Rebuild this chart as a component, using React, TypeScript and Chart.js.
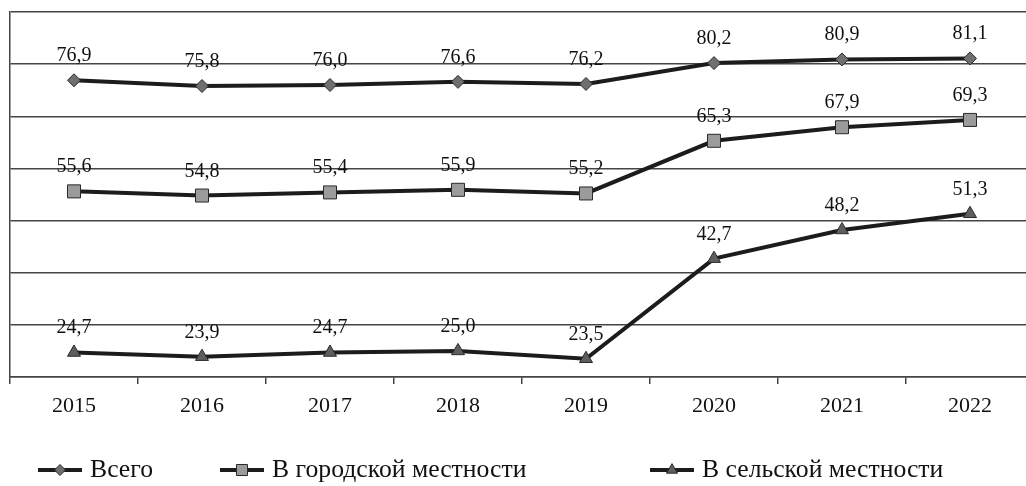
import React, { useEffect, useRef } from "react";
import { Chart, registerables } from "chart.js";

Chart.register(...registerables);

// Годы наблюдений
const years = ["2015", "2016", "2017", "2018", "2019", "2020", "2021", "2022"];

// Показатели, %
const totalValues = [76.9, 75.8, 76.0, 76.6, 76.2, 80.2, 80.9, 81.1];
const urbanValues = [55.6, 54.8, 55.4, 55.9, 55.2, 65.3, 67.9, 69.3];
const ruralValues = [24.7, 23.9, 24.7, 25.0, 23.5, 42.7, 48.2, 51.3];

const seriesNames = ["Всего", "В городской местности", "В сельской местности"];

const FONT = "'Liberation Serif', 'Times New Roman', serif";
const LINE_COLOR = "#1c1c1c";
const GRID_COLOR = "#454545";

// the canvas is a little wider than the window; the overflow is hidden
const CANVAS_W = 1034;
const CANVAS_H = 486;

type Marker = "rectRot" | "rect" | "triangle";

const markers: Marker[] = ["rectRot", "rect", "triangle"];
const markerFill = ["#6f6f6f", "#9b9b9b", "#5e5e5e"];
const markerRadius = [6.5, 9.2, 7.5];

const fmt = (v: number) => v.toFixed(1).replace(".", ",");

function drawMarker(ctx: CanvasRenderingContext2D, kind: Marker, x: number, y: number, r: number, fill: string) {
  ctx.save();
  ctx.beginPath();
  if (kind === "rectRot") {
    ctx.moveTo(x, y - r);
    ctx.lineTo(x + r, y);
    ctx.lineTo(x, y + r);
    ctx.lineTo(x - r, y);
  } else if (kind === "rect") {
    const s = Math.SQRT1_2 * r;
    ctx.rect(x - s, y - s, 2 * s, 2 * s);
  } else {
    const a = (2 * Math.PI) / 3;
    ctx.moveTo(x, y - r);
    ctx.lineTo(x + Math.sin(a) * r, y - Math.cos(a) * r);
    ctx.lineTo(x + Math.sin(2 * a) * r, y - Math.cos(2 * a) * r);
  }
  ctx.closePath();
  ctx.fillStyle = fill;
  ctx.fill();
  ctx.lineWidth = 1;
  ctx.strokeStyle = "#2a2a2a";
  ctx.stroke();
  ctx.restore();
}

// Подписи значений над точками
const valueLabels = {
  id: "valueLabels",
  afterDatasetsDraw(chart: any) {
    const { ctx } = chart;
    ctx.save();
    ctx.font = `20px ${FONT}`;
    ctx.fillStyle = "#111";
    ctx.textAlign = "center";
    ctx.textBaseline = "alphabetic";
    chart.data.datasets.forEach((ds: any, i: number) => {
      const meta = chart.getDatasetMeta(i);
      meta.data.forEach((pt: any, j: number) => {
        ctx.fillText(fmt(ds.data[j]), pt.x, pt.y - 19);
      });
    });
    ctx.restore();
  },
};

// Легенда внизу
const LEGEND_X = [38, 220, 650];
const LEGEND_Y = 470;
const LEGEND_LINE = 44;

const bottomLegend = {
  id: "bottomLegend",
  afterDraw(chart: any) {
    const { ctx } = chart;
    ctx.save();
    seriesNames.forEach((name, i) => {
      const x0 = LEGEND_X[i];
      ctx.beginPath();
      ctx.moveTo(x0, LEGEND_Y);
      ctx.lineTo(x0 + LEGEND_LINE, LEGEND_Y);
      ctx.lineWidth = 4;
      ctx.strokeStyle = LINE_COLOR;
      ctx.stroke();
      drawMarker(ctx, markers[i], x0 + LEGEND_LINE / 2, LEGEND_Y, markerRadius[i] * 0.85, markerFill[i]);
      ctx.font = `25.7px ${FONT}`;
      ctx.fillStyle = "#111";
      ctx.textAlign = "left";
      ctx.textBaseline = "middle";
      ctx.fillText(name, x0 + LEGEND_LINE + 8, LEGEND_Y);
    });
    ctx.restore();
  },
};

export default function App() {
  const canvasRef = useRef<HTMLCanvasElement | null>(null);

  useEffect(() => {
    if (!canvasRef.current) return;
    const values = [totalValues, urbanValues, ruralValues];
    const chart = new Chart(canvasRef.current, {
      type: "line",
      data: {
        labels: years,
        datasets: values.map((data, i) => ({
          label: seriesNames[i],
          data,
          borderColor: LINE_COLOR,
          borderWidth: 4,
          pointStyle: markers[i],
          pointRadius: markerRadius[i],
          pointBackgroundColor: markerFill[i],
          pointBorderColor: "#2a2a2a",
          pointBorderWidth: 1,
          tension: 0,
          fill: false,
        })),
      },
      options: {
        animation: false,
        responsive: false,
        devicePixelRatio: 1,
        layout: { autoPadding: false, padding: { left: 10, top: 12, right: 0, bottom: 0 } },
        plugins: {
          legend: { display: false },
          tooltip: { enabled: false },
        },
        scales: {
          x: {
            offset: true,
            grid: {
              offset: true,
              drawOnChartArea: false,
              drawTicks: true,
              tickLength: 7,
              color: GRID_COLOR,
              lineWidth: 1.5,
            },
            border: { display: true, color: GRID_COLOR, width: 1.5 },
            ticks: {
              font: { family: FONT, size: 22 },
              color: "#111",
              padding: 9,
              maxRotation: 0,
            },
            afterFit(scale: any) {
              scale.height = 109;
            },
          },
          y: {
            min: 20,
            max: 90,
            ticks: { display: false, stepSize: 10 },
            grid: { drawTicks: false, color: GRID_COLOR, lineWidth: 1.5 },
            border: { display: true, color: GRID_COLOR, width: 1.5 },
            afterFit(scale: any) {
              scale.width = 0;
            },
          },
        },
      },
      plugins: [valueLabels, bottomLegend],
    });
    return () => chart.destroy();
  }, []);

  return (
    <div
      style={{
        position: "fixed",
        left: 0,
        top: 0,
        width: "100vw",
        height: "100vh",
        overflow: "hidden",
        background: "#fff",
      }}
    >
      <canvas
        ref={canvasRef}
        width={CANVAS_W}
        height={CANVAS_H}
        style={{ display: "block", width: CANVAS_W, height: CANVAS_H }}
      />
    </div>
  );
}
